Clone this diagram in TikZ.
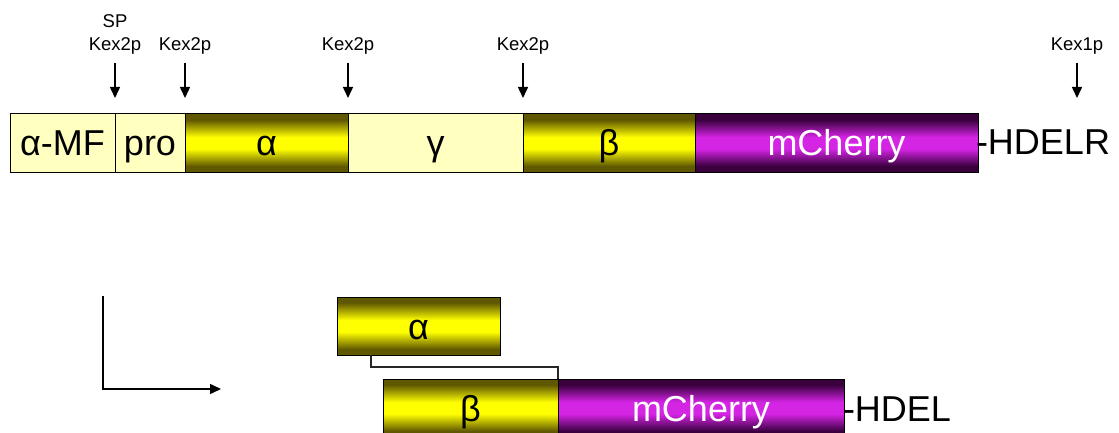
\documentclass[tikz,border=0pt]{standalone}
\usepackage{fontspec}
\setmainfont{Liberation Sans}
\usetikzlibrary{arrows.meta}
\definecolor{paleyel}{RGB}{255,255,192}
\definecolor{yeldark}{RGB}{96,88,0}
\definecolor{yelbright}{RGB}{255,255,0}
\definecolor{purdark}{RGB}{58,0,62}
\definecolor{purbright}{RGB}{212,36,228}
% cylinder-like bars: dark rims, bright middle band
\pgfdeclareverticalshading{goldbar}{100bp}{color(0bp)=(yeldark); color(30bp)=(yeldark);
  color(45bp)=(yelbright); color(55bp)=(yelbright); color(70bp)=(yeldark); color(100bp)=(yeldark)}
\pgfdeclareverticalshading{cherrybar}{100bp}{color(0bp)=(purdark); color(30bp)=(purdark);
  color(45bp)=(purbright); color(55bp)=(purbright); color(70bp)=(purdark); color(100bp)=(purdark)}
\tikzset{
  seg/.style={draw=black, line width=1pt, inner sep=0pt, outer sep=0pt,
    minimum height=58pt, anchor=north west, text height=26pt, text depth=0pt,
    font=\fontsize{36}{40}\selectfont},
  plain/.style={seg, fill=paleyel},
  gold/.style={seg, shading=goldbar},
  cherry/.style={seg, shading=cherrybar, text=white},
  tag/.style={inner sep=0pt, outer sep=0pt, anchor=base west,
    font=\fontsize{36}{40}\selectfont},
  lbl/.style={inner sep=0pt, anchor=base, font=\fontsize{18.5}{22}\selectfont},
  cut/.style={line width=1.5pt, -{Triangle[length=11pt,width=10pt]}},
  link/.style={draw=black!85, line width=1.2pt},
}
\begin{document}
\begin{tikzpicture}[x=1pt,y=-1pt]
\useasboundingbox (0,0) rectangle (1119,433);

% precursor
\node[plain, minimum width=105pt] (amf) at (10,114) {α-MF};
\node[plain, minimum width=70pt]  (pro) at (115,114) {pro};
\node[gold,  minimum width=163pt] (ach) at (185,114) {α};
\node[plain, minimum width=175pt] (gch) at (348,114) {γ};
\node[gold,  minimum width=172pt] (bch) at (523,114) {β};
\node[cherry, minimum width=283pt] (mch) at (695,114) {mCherry};
\node[tag] (tail) at (976,155) {-HDELR};

% processing sites
\node[lbl] (sp) at (115,28) {SP};
\node[lbl] (k1) at (115,51) {Kex2p};
\node[lbl] (k2) at (185,51) {Kex2p};
\node[lbl] (k3) at (348,51) {Kex2p};
\node[lbl] (k4) at (523,51) {Kex2p};
\node[lbl] (k5) at (1077,51) {Kex1p};
\coordinate (t5) at (k5.south |- mch.north);

\draw[cut] ([yshift=-8pt]k1.south) -- ([yshift=16pt]amf.north east);
\draw[cut] ([yshift=-8pt]k2.south) -- ([yshift=16pt]pro.north east);
\draw[cut] ([yshift=-8pt]k3.south) -- ([yshift=16pt]ach.north east);
\draw[cut] ([yshift=-8pt]k4.south) -- ([yshift=16pt]gch.north east);
\draw[cut] ([yshift=-8pt]k5.south) -- ([yshift=16pt]t5);

% processing step
\coordinate (l0) at (103,296);
\coordinate (l1) at (221,389);
\draw[cut] (l0) |- (l1);

% mature product
\node[gold, minimum width=163pt] (a2) at (337,297) {α};
\node[gold, minimum width=175pt] (b2) at (383,379) {β};
\node[cherry, minimum width=286pt] (m2) at (558,379) {mCherry};
\node[tag] (tail2) at (843,421) {-HDEL};
\draw[link] ([xshift=34pt]a2.south west) -- ++(0,12) -| (b2.north east);
\end{tikzpicture}
\end{document}
